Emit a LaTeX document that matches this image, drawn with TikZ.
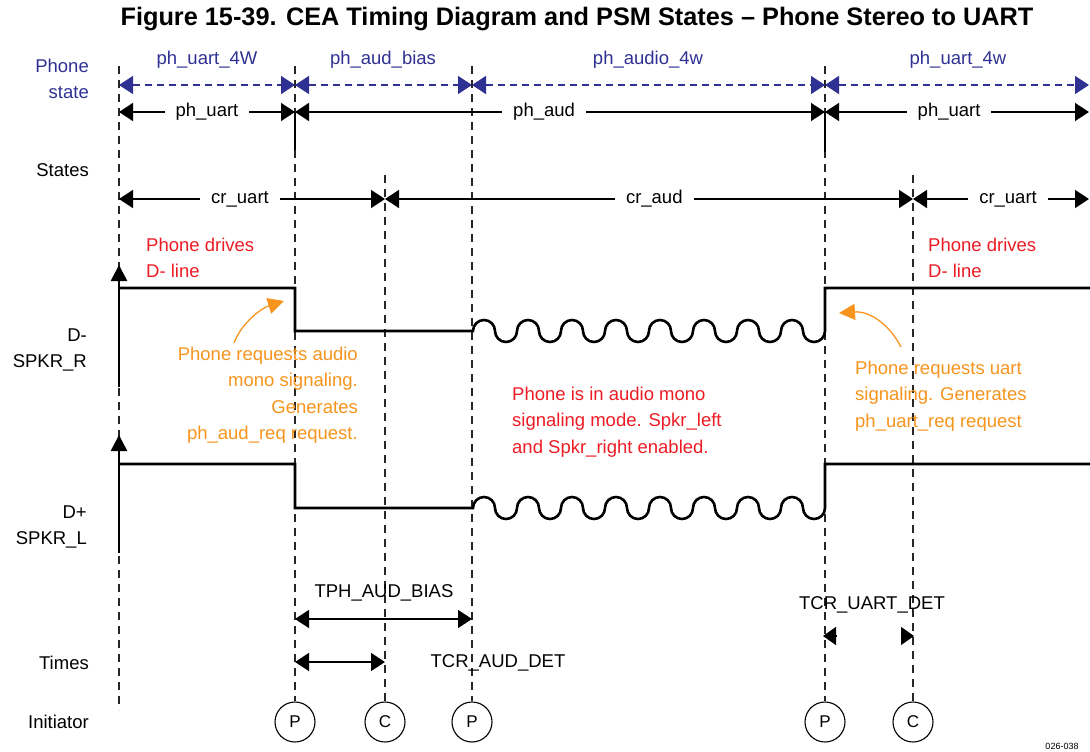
\documentclass[tikz,border=0pt]{standalone}
\usepackage{fontspec}
\setmainfont{Liberation Sans}
\usetikzlibrary{arrows.meta}
\definecolor{tiblue}{RGB}{46,49,146}
\definecolor{tired}{RGB}{237,28,36}
\definecolor{tiorange}{RGB}{247,148,29}
\begin{document}
\begin{tikzpicture}[x=1pt,y=-1pt,
  every node/.style={font=\fontsize{18.5}{26.5}\selectfont, inner sep=0pt},
  guide/.style={dash pattern=on 8pt off 6pt, line width=1.1pt, black!85},
  sig/.style={line width=2.6pt, line join=miter},
  span/.style={line width=1.4pt, {Triangle[length=14pt,width=18pt]}-{Triangle[length=14pt,width=18pt]}},
  bspan/.style={span, tiblue, dash pattern=on 7pt off 5pt},
  lbl/.style={fill=white, inner xsep=11pt, inner ysep=2pt},
  side/.style={anchor=east, align=right},
  circ/.style={draw, circle, minimum size=40pt, line width=1.1pt, fill=white, font=\fontsize{17}{20}\selectfont},
  note/.style={align=left, anchor=west}
]
\useasboundingbox (0,0) rectangle (1090,752);

% title
\node[font=\bfseries\fontsize{25.3}{28}\selectfont] (title) at (577,19) {Figure 15-39. CEA Timing Diagram and PSM States – Phone Stereo to UART};

% initiator circles
\node[circ] (i1) at (295,722) {P};
\node[circ] (i2) at (385,722) {C};
\node[circ] (i3) at (472,722) {P};
\node[circ] (i4) at (825,722) {P};
\node[circ] (i5) at (913,722) {C};

% guide tops
\coordinate (gA) at (119,66);
\coordinate (gAb) at (119,710);
\coordinate (gB) at (295,66);
\coordinate (gC) at (385,175);
\coordinate (gD) at (472,66);
\coordinate (gE) at (825,66);
\coordinate (gF) at (913,175);
\draw[guide] (gA) -- (gAb);
\draw[guide] (gB) -- (i1.north);
\draw[guide] (gC) -- (i2.north);
\draw[guide] (gD) -- (i3.north);
\draw[guide] (gE) -- (i4.north);
\draw[guide] (gF) -- (i5.north);

% side labels
\node[side, text=tiblue] (lps) at (89,79) {Phone\\state};
\node[side] (lst) at (89,170) {States};
\node[side] (ldm) at (87,350) {D-\\SPKR\_R};
\node[side] (ldp) at (87,527) {D+\\SPKR\_L};
\node[side] (lti) at (89,663) {Times};
\node[side] (lin) at (89,722) {Initiator};

% phone state row (blue)
\coordinate (b1) at (119,85);
\coordinate (b2) at (295,85);
\coordinate (b3) at (472,85);
\coordinate (b4) at (825,85);
\coordinate (b5) at (1089,85);
\draw[bspan] (b1) -- (b2);
\draw[bspan] (b2) -- (b3);
\draw[bspan] (b3) -- (b4);
\draw[bspan] (b4) -- (b5);
\node[text=tiblue] (t1) at (207,60) {ph\_uart\_4W};
\node[text=tiblue] (t2) at (383,60) {ph\_aud\_bias};
\node[text=tiblue] (t3) at (648,60) {ph\_audio\_4w};
\node[text=tiblue] (t4) at (958,60) {ph\_uart\_4w};

% ph row
\coordinate (p1) at (119,112);
\coordinate (p2) at (295,112);
\coordinate (p3) at (825,112);
\coordinate (p4) at (1089,112);
\draw[span] (p1) -- node[lbl] (pl1) {ph\_uart} (p2);
\draw[span] (p2) -- node[lbl, pos=0.47] (pl2) {ph\_aud} (p3);
\draw[span] (p3) -- node[lbl, pos=0.47] (pl3) {ph\_uart} (p4);
\coordinate (pb2) at (295,150);
\coordinate (pb3) at (825,152);
\draw[line width=2.6pt] (p2) -- (pb2);
\draw[line width=2.6pt] (p3) -- (pb3);

% cr row
\coordinate (c1) at (119,199);
\coordinate (c2) at (385,199);
\coordinate (c3) at (913,199);
\coordinate (c4) at (1089,199);
\draw[span] (c1) -- node[lbl, pos=0.455] (cl1) {cr\_uart} (c2);
\draw[span] (c2) -- node[lbl, pos=0.51] (cl2) {cr\_aud} (c3);
\draw[span] (c3) -- node[lbl, pos=0.54] (cl3) {cr\_uart} (c4);

% D- signal
\draw[sig] (119,288) -- (295,288) -- (295,331) -- (473,331)
  \foreach \k in {1,...,8} { arc[start angle=180, end angle=360, radius=11] arc[start angle=180, end angle=0, radius=11] }
  -- (825,288) -- (1090,288);
\coordinate (am0) at (119,387);
\coordinate (am1) at (119,265);
\draw[sig, -{Triangle[length=16pt,width=16pt]}] (am0) -- (am1);

% D+ signal
\draw[sig] (119,464) -- (295,464) -- (295,508) -- (473,508)
  \foreach \k in {1,...,8} { arc[start angle=180, end angle=360, radius=11] arc[start angle=180, end angle=0, radius=11] }
  -- (825,464) -- (1090,464);
\coordinate (ap0) at (119,553);
\coordinate (ap1) at (119,435);
\draw[sig, -{Triangle[length=16pt,width=16pt]}] (ap0) -- (ap1);

% red notes
\node[note, text=tired] (r1) at (146,258) {Phone drives\\D- line};
\node[note, text=tired] (r2) at (928,258) {Phone drives\\D- line};
\node[note, text=tired] (r3) at (512,422) {Phone is in audio mono\\signaling mode. Spkr\_left\\and Spkr\_right enabled.};

% orange notes
\node[align=right, anchor=east, text=tiorange] (o1) at (358,395) {Phone requests audio\\mono signaling.\\Generates\\ph\_aud\_req request.};
\node[note, text=tiorange] (o2) at (855,396) {Phone requests uart\\signaling. Generates\\ph\_uart\_req request};
\coordinate (oa0) at (234,343);
\coordinate (oa1) at (284,301);
\draw[tiorange, line width=1.3pt, -{Triangle[length=16pt,width=16pt]}] (oa0) .. controls (242,322) and (262,308) .. (oa1);
\coordinate (ob0) at (901,347);
\coordinate (ob1) at (839,313);
\draw[tiorange, line width=1.3pt, -{Triangle[length=16pt,width=16pt]}] (ob0) .. controls (888,322) and (868,311) .. (ob1);

% times
\node (tb) at (384,593) {TPH\_AUD\_BIAS};
\coordinate (tb1) at (295,619);
\coordinate (tb2) at (472,619);
\draw[span] (tb1) -- (tb2);
\coordinate (tc1) at (295,662);
\coordinate (tc2) at (385,662);
\draw[span] (tc1) -- (tc2);
\node (tcad) at (498,663) {TCR\_AUD\_DET};
\node (tcud) at (872,605) {TCR\_UART\_DET};
\coordinate (tu1) at (836,636);
\coordinate (tu2) at (823,636);
\coordinate (tu3) at (901,636);
\coordinate (tu4) at (914,636);
\draw[line width=1.4pt, -{Triangle[length=13pt,width=18pt]}] (tu1) -- (tu2);
\draw[line width=1.4pt, -{Triangle[length=13pt,width=18pt]}] (tu3) -- (tu4);

\node[font=\fontsize{9}{10}\selectfont] (fig) at (1062,746) {026-038};
\end{tikzpicture}
\end{document}
